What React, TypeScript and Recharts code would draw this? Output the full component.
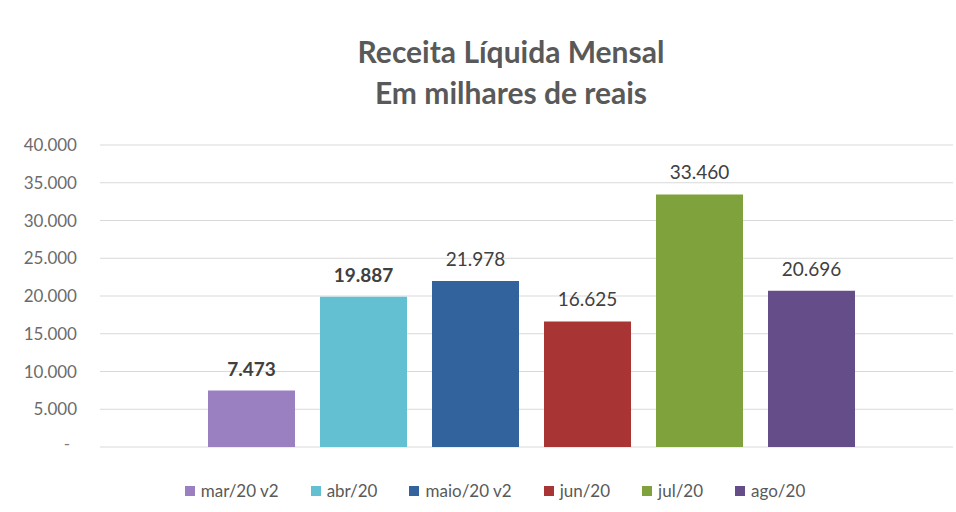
import { Bar, BarChart, CartesianGrid, LabelList, XAxis, YAxis } from 'recharts';

const seriesNames = ['mar/20 v2', 'abr/20', 'maio/20 v2', 'jun/20', 'jul/20', 'ago/20'];
const seriesValues = [7473, 19887, 21978, 16625, 33460, 20696];
const seriesColors = ['#9a80c0', '#62c0d2', '#33639c', '#a83434', '#7fa23c', '#644d89'];
const boldLabels = [true, true, false, false, false, false];
const yTicks = [0, 5000, 10000, 15000, 20000, 25000, 30000, 35000, 40000];

const chartData = [
  seriesNames.reduce(
    (row, name, i) => {
      row[`s${i}`] = seriesValues[i];
      return row;
    },
    { label: 'Receita' } as Record<string, string | number>,
  ),
];

const FONT = 'Lato, "Noto Sans", sans-serif';

function formatThousands(value: number) {
  return String(Math.round(value)).replace(/\B(?=(\d{3})+(?!\d))/g, '.');
}

function YTick(props: any) {
  const { x, y, payload } = props;
  const value = Number(payload.value);
  if (value === 0) {
    return (
      <text x={x - 22} y={y} dy={3} textAnchor="end" fill="#7f7f7f" fontSize={17} fontFamily={FONT}>
        -
      </text>
    );
  }
  return (
    <text x={x - 15} y={y} dy={6} textAnchor="end" fill="#6b6b6b" fontSize={17} fontFamily={FONT}>
      {formatThousands(value)}
    </text>
  );
}

export default function App() {
  return (
    <div style={{ position: 'relative', width: 956, height: 512, background: '#ffffff', fontFamily: FONT }}>
      <style>{'body{margin:0}'}</style>
      <div
        style={{
          position: 'absolute',
          top: 31,
          left: 0,
          width: 1022,
          textAlign: 'center',
          color: '#595959',
          fontSize: 30,
          fontWeight: 700,
          lineHeight: '41px',
        }}
      >
        <div>Receita Líquida Mensal</div>
        <div>Em milhares de reais</div>
      </div>
      <BarChart
        width={956}
        height={512}
        data={chartData}
        margin={{ top: 145, right: 3, bottom: 65, left: 0 }}
        barGap={25}
        barSize={87}
      >
        <CartesianGrid vertical={false} stroke="#d9d9d9" />
        <XAxis dataKey="label" hide padding={{ left: 9, right: 0 }} />
        <YAxis
          width={100}
          domain={[0, 40000]}
          ticks={yTicks}
          axisLine={false}
          tickLine={false}
          tick={<YTick />}
        />
        {seriesNames.map((name, i) => (
          <Bar key={name} dataKey={`s${i}`} name={name} fill={seriesColors[i]} isAnimationActive={false}>
            <LabelList
              dataKey={`s${i}`}
              position="top"
              offset={15}
              formatter={(v: any) => formatThousands(Number(v))}
              fill="#404040"
              fontSize={19}
              fontWeight={boldLabels[i] ? 700 : 400}
              fontFamily={FONT}
            />
          </Bar>
        ))}
      </BarChart>
      <div
        style={{
          position: 'absolute',
          top: 480,
          left: 0,
          width: 990,
          display: 'flex',
          justifyContent: 'center',
          gap: 32,
          fontSize: 17,
          color: '#595959',
        }}
      >
        {seriesNames.map((name, i) => (
          <div key={name} style={{ display: 'flex', alignItems: 'center', gap: 6 }}>
            <span style={{ width: 10, height: 10, background: seriesColors[i], display: 'inline-block' }} />
            <span>{name}</span>
          </div>
        ))}
      </div>
    </div>
  );
}
